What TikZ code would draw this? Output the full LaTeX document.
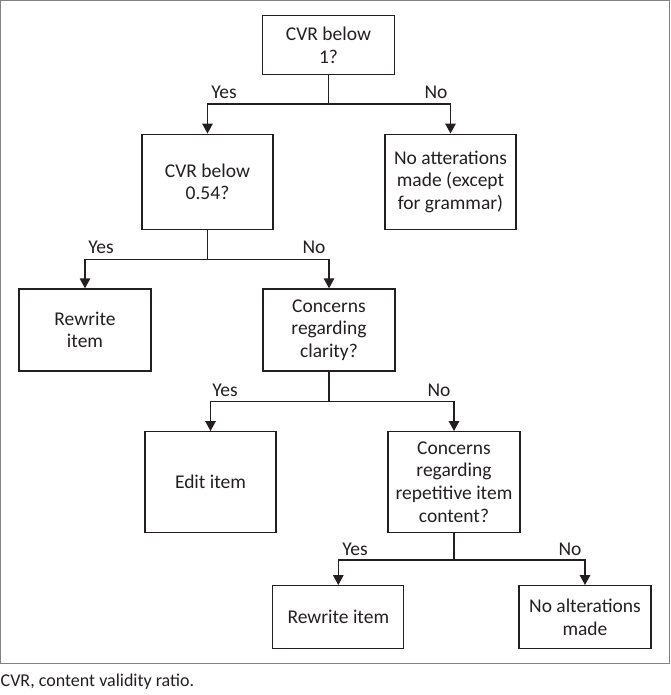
\documentclass[tikz,border=0pt]{standalone}
\usepackage{fontspec}
\setmainfont{Carlito}
\usetikzlibrary{arrows.meta}
\definecolor{ink}{RGB}{35,31,32}
\definecolor{framegray}{RGB}{130,130,130}
\begin{document}
\begin{tikzpicture}[x=1pt,y=-1pt,
  box/.style={draw=ink, line width=1.3pt, align=center, inner sep=0pt, font=\fontsize{19.5}{22.7}\selectfont, text=ink},
  lbl/.style={font=\fontsize{19.5}{22.7}\selectfont, text=ink, inner sep=0pt},
  conn/.style={draw=ink, line width=1.3pt},
  arr/.style={conn, -{Triangle[width=10.5pt,length=10pt]}}]
\useasboundingbox (0,0) rectangle (670,695);
\draw[framegray, line width=1.3pt] (0.8,0.8) rectangle (669.2,663.3);
\node[box, minimum width=132pt, minimum height=59pt] (b1) at (328.5,45) {CVR below\\1?};
\node[box, minimum width=131pt, minimum height=95pt] (b2) at (207.5,181.7) {CVR below\\0.54?};
\node[box, minimum width=131pt, minimum height=95pt] (b3) at (450.5,181.7) {No atterations\\made (except\\for grammar)};
\node[box, minimum width=132pt, minimum height=82pt] (b4) at (85,330) {Rewrite\\item};
\node[box, minimum width=132pt, minimum height=82pt] (b5) at (329,330) {Concerns\\regarding\\clarity?};
\node[box, minimum width=131pt, minimum height=100.6pt] (b6) at (210.5,482) {Edit item};
\node[box, minimum width=132pt, minimum height=100.6pt] (b7) at (454,482) {Concerns\\regarding\\repetitive item\\content?};
\node[box, minimum width=131pt, minimum height=62.6pt] (b8) at (338.3,617) {Rewrite item};
\node[box, minimum width=132pt, minimum height=62.6pt] (b9) at (585,617) {No alterations\\made};
\coordinate (j1) at (b1.south |- 0,104);
\coordinate (j2) at (b2.south |- 0,259.3);
\coordinate (j3) at (b5.south |- 0,401.7);
\coordinate (j4) at (b7.south |- 0,560);
\draw[conn] (b1.south) -- (j1);
\draw[arr] (j1) -| (b2.north);
\draw[arr] (j1) -| (b3.north);
\draw[conn] (b2.south) -- (j2);
\draw[arr] (j2) -| (b4.north);
\draw[arr] (j2) -| (b5.north);
\draw[conn] (b5.south) -- (j3);
\draw[arr] (j3) -| (b6.north);
\draw[arr] (j3) -| (b7.north);
\draw[conn] (b7.south) -- (j4);
\draw[arr] (j4) -| (b8.north);
\draw[arr] (j4) -| (b9.north);
\node[lbl] (y1) at (224,92.7) {Yes};
\node[lbl] (n1) at (436,92.7) {No};
\node[lbl] (y2) at (101,247) {Yes};
\node[lbl] (n2) at (314,247) {No};
\node[lbl] (y3) at (225,390) {Yes};
\node[lbl] (n3) at (439,390) {No};
\node[lbl] (y4) at (355,549) {Yes};
\node[lbl] (n4) at (570,549) {No};
\node[lbl, anchor=west, font=\fontsize{18}{21}\selectfont] (cap) at (0.5,682) {CVR, content validity ratio.};
\end{tikzpicture}
\end{document}
